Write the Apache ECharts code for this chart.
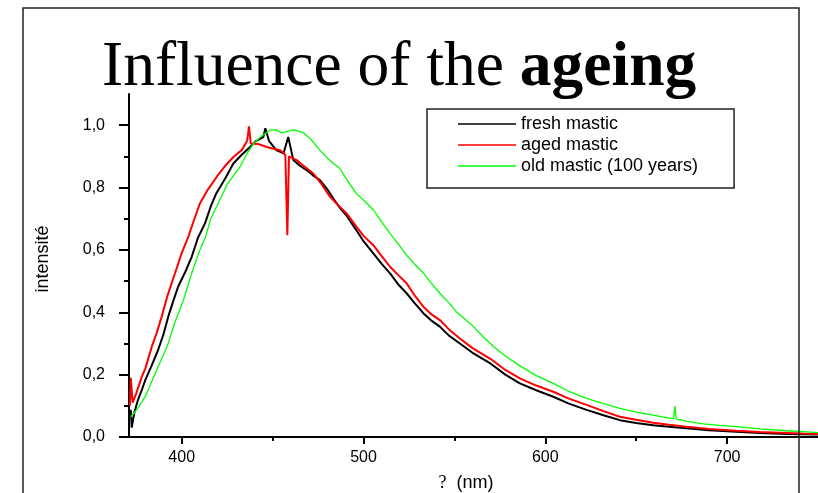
<!DOCTYPE html>
<html>
<head>
<meta charset="utf-8">
<script src="https://cdn.jsdelivr.net/npm/echarts@6/dist/echarts.min.js"></script>
<style>html,body{margin:0;padding:0;background:#fff;}#c{width:818px;height:493px;}</style>
</head>
<body>
<div id="c"></div>
<script>
// ---- data ----
var seriesNames = ['fresh mastic', 'aged mastic', 'old mastic (100 years)'];
var xTickLabels = [400, 500, 600, 700];
var xMinorTicks = [450, 550, 650];
var yTickLabels = [0, 0.2, 0.4, 0.6, 0.8, 1.0];
var yMinorTicks = [0.1, 0.3, 0.5, 0.7, 0.9];

var freshNm = [372,372.5,374,376,378,380,383.5,387,390,392.6,395,398,402,405.5,409,412.8,416,419,424,428.4,433,437.6,441,444.9,446,448,452,456,458.6,461.4,465,468.7,472,476,480,483.4,487,490.7,496.2,500,505.4,510,514.6,519,523.7,528,532.9,537,542,547,553,560,570,578,586,595,604.4,613,622.7,632,641,650,659.4,668,677.7,690,705,718,732.7,742,750];
var freshVal = [0.087,0.03,0.08,0.12,0.15,0.183,0.23,0.279,0.33,0.386,0.43,0.482,0.53,0.578,0.64,0.685,0.74,0.781,0.83,0.877,0.905,0.93,0.95,0.962,0.99,0.95,0.92,0.91,0.962,0.888,0.87,0.856,0.84,0.824,0.795,0.765,0.735,0.71,0.662,0.628,0.589,0.555,0.525,0.49,0.461,0.43,0.397,0.375,0.354,0.325,0.3,0.27,0.235,0.2,0.172,0.15,0.129,0.107,0.087,0.07,0.054,0.045,0.038,0.033,0.028,0.022,0.017,0.013,0.01,0.009,0.008];

var agedNm = [371.5,372,373,375,378,380,383.5,386,389,392,396.3,400,403.6,407,410,414,419.2,424,428.4,433,436,437,438,442,446.7,450,454,457,458.1,459,463.2,468,472.4,477,481.6,487,490.7,496.2,500,505.4,510,514.6,519,523.7,528,532.9,537,542,547,553,560,570,578,586,595,604.4,613,622.7,632,641,650,659.4,668,677.7,690,705,718,732.7,742,750];
var agedVal = [0.10,0.19,0.11,0.14,0.193,0.22,0.289,0.33,0.386,0.45,0.525,0.59,0.642,0.70,0.749,0.79,0.834,0.87,0.898,0.92,0.95,0.996,0.941,0.94,0.93,0.925,0.92,0.905,0.647,0.9,0.888,0.865,0.845,0.81,0.77,0.738,0.717,0.674,0.645,0.615,0.58,0.546,0.52,0.493,0.455,0.418,0.395,0.375,0.345,0.316,0.285,0.25,0.215,0.188,0.165,0.145,0.123,0.103,0.083,0.065,0.055,0.046,0.039,0.033,0.026,0.02,0.016,0.013,0.011,0.01];

var oldNm = [372,375,380,387,392,396,401,405.5,410,413,416,420,425,432,436,439.5,444,448.5,452,455,458,462,467,471,476,480,483.5,487,491,496,500,505.5,510,514.5,519,523.7,528,533,537,542,547,551,556,560.5,566,571.5,578,586,595,604.4,613,622.7,632,641,650,659.4,665,670.5,671.3,672,678,687,696,705,718,732.7,742,750];
var oldVal = [0.065,0.085,0.13,0.225,0.29,0.364,0.44,0.525,0.6,0.64,0.70,0.749,0.81,0.866,0.91,0.941,0.965,0.984,0.985,0.975,0.98,0.985,0.975,0.955,0.92,0.895,0.877,0.861,0.824,0.781,0.76,0.728,0.69,0.653,0.62,0.583,0.555,0.525,0.495,0.461,0.43,0.402,0.377,0.354,0.32,0.29,0.26,0.228,0.197,0.172,0.146,0.124,0.107,0.092,0.08,0.07,0.064,0.058,0.099,0.058,0.05,0.042,0.037,0.033,0.026,0.02,0.017,0.014];

function pairs(xs, ys) { return xs.map(function (x, i) { return [x, ys[i]]; }); }
var fmtY = function (v) { return v.toFixed(1).replace('.', ','); };
var SANS = 'Liberation Sans';

var chart = echarts.init(document.getElementById('c'), null, {renderer: 'canvas'});
chart.setOption({
  animation: false,
  backgroundColor: '#fff',
  title: {
    text: '{n|Influence of the }{b|ageing}',
    left: 102, top: 37, padding: 0,
    textStyle: {
      fontFamily: 'Liberation Serif', fontSize: 63.5, lineHeight: 63, color: '#000', fontWeight: 'normal',
      rich: {
        n: {fontFamily: 'Liberation Serif', fontSize: 63.5, lineHeight: 63, color: '#000', fontWeight: 'normal'},
        b: {fontFamily: 'Liberation Serif', fontSize: 63.5, lineHeight: 63, color: '#000', fontWeight: 'bold'}
      }
    }
  },
  legend: {
    data: seriesNames,
    orient: 'vertical',
    left: 427, top: 109,
    padding: [5, 36, 12, 31],
    itemGap: 1,
    itemWidth: 58, itemHeight: 1.5,
    icon: 'rect',
    borderColor: '#222', borderWidth: 1.5,
    textStyle: {fontFamily: SANS, fontSize: 18, color: '#000', lineHeight: 20}
  },
  grid: {left: 129, top: 94, right: 0, bottom: 56, containLabel: false, outerBoundsMode: 'none'},
  xAxis: [{
    type: 'value', min: 371, max: 750,
    name: '{q|?}  (nm)', nameLocation: 'middle', nameGap: 37,
    nameTextStyle: {fontFamily: SANS, fontSize: 18, color: '#000', padding: [0, 15, 0, 0],
      rich: {q: {fontFamily: 'Liberation Serif', fontSize: 18, color: '#000'}}},
    axisLine: {onZero: false, lineStyle: {color: '#000', width: 2}},
    axisTick: {length: 7, lineStyle: {color: '#000', width: 2}, customValues: xTickLabels},
    axisLabel: {margin: 13, fontFamily: SANS, fontSize: 16, color: '#000', customValues: xTickLabels},
    splitLine: {show: false}
  }, {
    type: 'value', min: 371, max: 750, position: 'bottom',
    axisLine: {show: false, onZero: false},
    axisTick: {length: 4, lineStyle: {color: '#000', width: 2}, customValues: xMinorTicks},
    axisLabel: {show: false},
    splitLine: {show: false}
  }],
  yAxis: [{
    type: 'value', min: 0, max: 1.1,
    name: 'intensité', nameLocation: 'middle', nameGap: 77, nameRotate: 90,
    nameTextStyle: {fontFamily: SANS, fontSize: 18, color: '#000', padding: [0, 0, 0, 13]},
    axisLine: {show: true, onZero: false, lineStyle: {color: '#000', width: 2}},
    axisTick: {show: true, length: 10, lineStyle: {color: '#000', width: 2}, customValues: yTickLabels},
    axisLabel: {margin: 24, fontFamily: SANS, fontSize: 16, color: '#000', formatter: fmtY, customValues: yTickLabels},
    splitLine: {show: false}
  }, {
    type: 'value', min: 0, max: 1.1, position: 'left',
    axisLine: {show: false, onZero: false},
    axisTick: {show: true, length: 5, lineStyle: {color: '#000', width: 2}, customValues: yMinorTicks},
    axisLabel: {show: false},
    splitLine: {show: false}
  }],
  series: [{
    name: seriesNames[0], type: 'line', showSymbol: false, symbol: 'none',
    data: pairs(freshNm, freshVal), color: '#000000',
    lineStyle: {color: '#000000', width: 2}, clip: true, z: 2
  }, {
    name: seriesNames[1], type: 'line', showSymbol: false, symbol: 'none',
    data: pairs(agedNm, agedVal), color: '#ff0000',
    lineStyle: {color: '#ff0000', width: 2}, clip: true, z: 3
  }, {
    name: seriesNames[2], type: 'line', showSymbol: false, symbol: 'none',
    data: pairs(oldNm, oldVal), color: '#00ff00',
    lineStyle: {color: '#00ff00', width: 1.3}, clip: true, z: 4
  }],
  graphic: [{
    type: 'rect', z: 100, silent: true,
    shape: {x: 23, y: 8, width: 776, height: 520},
    style: {fill: 'none', stroke: '#222', lineWidth: 1.5}
  }]
});
</script>
</body>
</html>
